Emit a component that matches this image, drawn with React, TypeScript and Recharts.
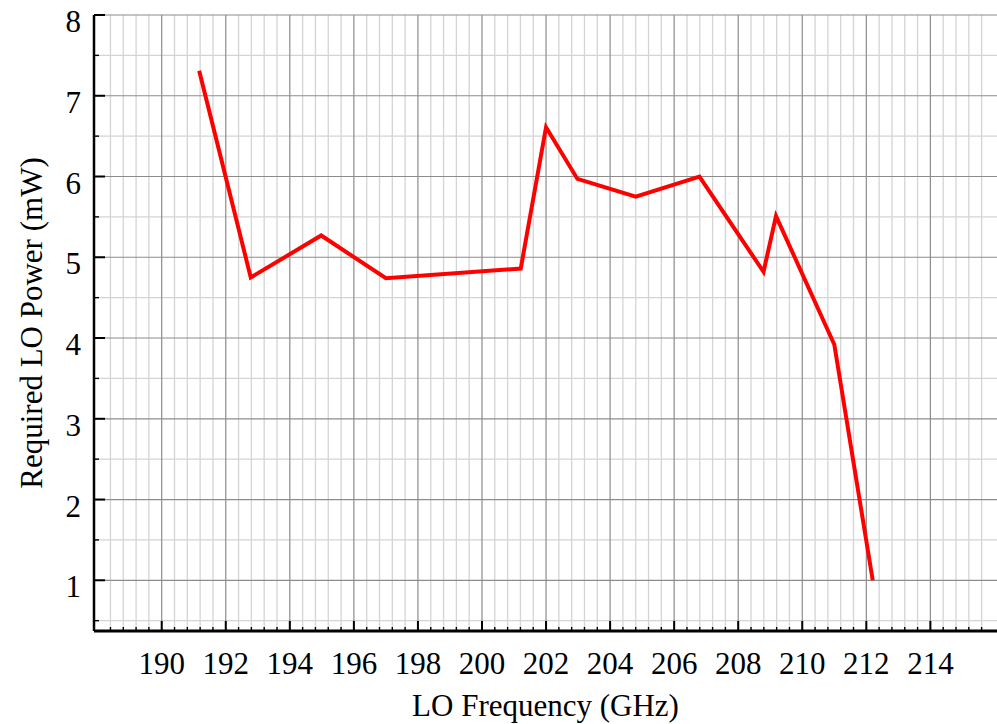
import React from 'react';
import { LineChart, Line, XAxis, YAxis, ReferenceLine } from 'recharts';

// ---- data ----
const frequencyGHz = [191.17, 192.78, 194.98, 197.0, 201.21, 202.0, 202.98, 204.8, 206.79, 208.79, 209.18, 211.0, 212.2];
const powerMW = [7.31, 4.75, 5.27, 4.74, 4.86, 6.61, 5.97, 5.75, 6.0, 4.82, 5.51, 3.92, 1.0];

const xMajorTicks = [190, 192, 194, 196, 198, 200, 202, 204, 206, 208, 210, 212, 214];
const yMajorTicks = [1, 2, 3, 4, 5, 6, 7, 8];
const xMinorTicks = Array.from({ length: 69 }, (_, i) => Math.round((188.4 + i * 0.4) * 10) / 10).filter(
  (v) => !xMajorTicks.includes(v)
);
const yMinorTicks = [0.5, 1.5, 2.5, 3.5, 4.5, 5.5, 6.5, 7.5];

const xDomain: [number, number] = [187.886, 216.08];
const yDomain: [number, number] = [0.372, 8];

const xAllTicks = [...xMinorTicks, ...xMajorTicks].sort((a, b) => a - b);
const yAllTicks = [...yMinorTicks, ...yMajorTicks].sort((a, b) => a - b);

const data = frequencyGHz.map((f, i) => ({ f, p: powerMW[i] }));

const FONT = '"Liberation Serif", "Times New Roman", serif';
const FS = 31;
const isXMajor = (v: number) => xMajorTicks.includes(v);
const isYMajor = (v: number) => yMajorTicks.includes(v);

const BottomTick = (props: any) => {
  const { x, y, payload } = props;
  const major = isXMajor(payload.value);
  return (
    <g>
      <line x1={x} x2={x} y1={y} y2={y - (major ? 10 : 4)} stroke="#000" strokeWidth={major ? 2 : 1.4} />
      {major && (
        <text x={x} y={y + 43} textAnchor="middle" fontSize={FS} fontFamily={FONT} fill="#000">
          {payload.value}
        </text>
      )}
    </g>
  );
};

const TopTick = (props: any) => {
  const { x, y, payload } = props;
  const major = isXMajor(payload.value);
  return <line x1={x} x2={x} y1={y} y2={y + (major ? 10 : 5)} stroke="#000" strokeWidth={major ? 2 : 1.4} />;
};

const LeftTick = (props: any) => {
  const { x, y, payload } = props;
  const major = isYMajor(payload.value);
  return (
    <g>
      <line x1={x} x2={x + (major ? 11 : 5)} y1={y} y2={y} stroke="#000" strokeWidth={major ? 2 : 1.4} />
      {major && (
        <text x={x - 13} y={y + 17} textAnchor="end" fontSize={FS} fontFamily={FONT} fill="#000">
          {payload.value}
        </text>
      )}
    </g>
  );
};

const RightTick = (props: any) => {
  const { x, y, payload } = props;
  const major = isYMajor(payload.value);
  return <line x1={x} x2={x - (major ? 10 : 5)} y1={y} y2={y} stroke="#000" strokeWidth={major ? 2 : 1.4} />;
};

const XTitle = (props: any) => {
  const vb = props.viewBox;
  return (
    <text x={vb.x + vb.width / 2} y={vb.y + 85} textAnchor="middle" fontSize={FS} fontFamily={FONT} fill="#000">
      LO Frequency (GHz)
    </text>
  );
};

const YTitle = (props: any) => {
  const vb = props.viewBox;
  const cx = vb.x + 42;
  const cy = vb.y + vb.height / 2;
  return (
    <text
      x={cx}
      y={cy}
      transform={`rotate(-90 ${cx} ${cy})`}
      textAnchor="middle"
      fontSize={FS}
      fontFamily={FONT}
      fill="#000"
    >
      Required LO Power (mW)
    </text>
  );
};

export default function App() {
  return (
    <div style={{ position: 'absolute', left: 0, top: 0, width: 997, height: 724, background: '#fff' }}>
      <LineChart width={997} height={724} data={data} margin={{ top: 15, right: 0, bottom: 0, left: 0 }}>
        <XAxis
          xAxisId="b"
          dataKey="f"
          type="number"
          domain={xDomain}
          allowDataOverflow
          ticks={xAllTicks}
          interval={0}
          tickLine={false}
          tickSize={0}
          tickMargin={0}
          height={93}
          axisLine={{ stroke: '#000', strokeWidth: 3 }}
          tick={<BottomTick />}
          label={XTitle}
        />
        <XAxis
          xAxisId="t"
          orientation="top"
          dataKey="f"
          type="number"
          domain={xDomain}
          allowDataOverflow
          ticks={xAllTicks}
          interval={0}
          tickLine={false}
          tickSize={0}
          tickMargin={0}
          height={0}
          axisLine={{ stroke: '#000', strokeWidth: 2.5 }}
          tick={<TopTick />}
        />
        <YAxis
          yAxisId="l"
          type="number"
          domain={yDomain}
          allowDataOverflow
          ticks={yAllTicks}
          interval={0}
          tickLine={false}
          tickSize={0}
          tickMargin={0}
          width={94}
          axisLine={{ stroke: '#000', strokeWidth: 2.5 }}
          tick={<LeftTick />}
          label={YTitle}
        />
        <YAxis
          yAxisId="r"
          orientation="right"
          type="number"
          domain={yDomain}
          allowDataOverflow
          ticks={yAllTicks}
          interval={0}
          tickLine={false}
          tickSize={0}
          tickMargin={0}
          width={0}
          axisLine={{ stroke: '#000', strokeWidth: 2 }}
          tick={<RightTick />}
        />
        {xMinorTicks.map((v) => (
          <ReferenceLine key={`xm${v}`} x={v} xAxisId="b" yAxisId="l" stroke="#d4d4d4" strokeWidth={1.3} />
        ))}
        {yMinorTicks.map((v) => (
          <ReferenceLine key={`ym${v}`} y={v} xAxisId="b" yAxisId="l" stroke="#d4d4d4" strokeWidth={1.3} />
        ))}
        {xMajorTicks.map((v) => (
          <ReferenceLine key={`xM${v}`} x={v} xAxisId="b" yAxisId="l" stroke="#8c8c8c" strokeWidth={1.2} />
        ))}
        {yMajorTicks.map((v) => (
          <ReferenceLine key={`yM${v}`} y={v} xAxisId="b" yAxisId="l" stroke="#8c8c8c" strokeWidth={1.2} />
        ))}
        <Line
          xAxisId="b"
          yAxisId="l"
          type="linear"
          dataKey="p"
          stroke="#ff0000"
          strokeWidth={4}
          strokeLinejoin="miter"
          dot={false}
          activeDot={false}
          isAnimationActive={false}
        />
      </LineChart>
    </div>
  );
}
